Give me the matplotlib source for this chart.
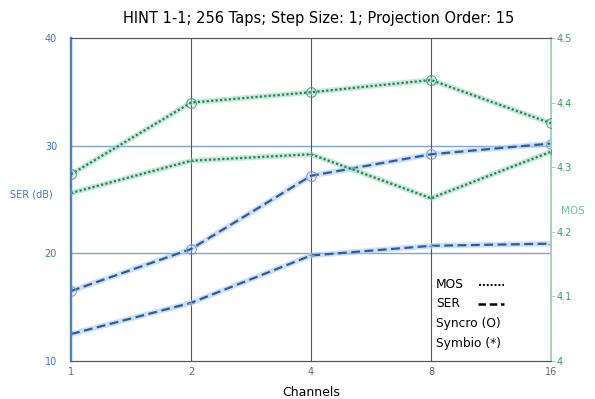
import numpy as np
import matplotlib
matplotlib.use("Agg")
import matplotlib.pyplot as plt

channels = [1, 2, 4, 8, 16]
mos_syncro = [4.289, 4.400, 4.416, 4.435, 4.368]
mos_symbio = [4.260, 4.310, 4.320, 4.252, 4.324]
ser_syncro = [16.5, 20.4, 27.2, 29.2, 30.2]
ser_symbio = [12.5, 15.4, 19.8, 20.7, 20.9]
legend_labels = ['MOS', 'SER', 'Syncro (O)', 'Symbio (*)']

blue = '#1f5fae'
blue_halo = '#b3cbea'
green = '#16875b'
green_halo = '#a9dbc0'

fig = plt.figure(figsize=(5.95, 3.99), dpi=100)
ax = fig.add_axes([0.1193, 0.0952, 0.8067, 0.8096])
ax2 = ax.twinx()

ax.set_xscale('log', base=2)
ax.set_xlim(1, 16)
ax.set_xticks(channels)
ax.set_xticklabels([str(c) for c in channels])
ax.minorticks_off()
ax.tick_params(axis='x', length=0, labelsize=7, labelcolor='#666666', pad=4)

ax.set_ylim(10, 40)
ax.set_yticks([10, 20, 30, 40])
ax.tick_params(axis='y', length=0, labelsize=7, labelcolor='#3a78c8', pad=10)

ax2.set_ylim(4.0, 4.5)
ax2.set_yticks([4.0, 4.1, 4.2, 4.3, 4.4, 4.5])
ax2.set_yticklabels(['4', '4.1', '4.2', '4.3', '4.4', '4.5'])
ax2.tick_params(axis='y', length=3, width=0.6, color='#88c8a4', labelsize=7,
                labelcolor='#2f9a66', pad=1)

# grid
for v in [20, 30]:
    ax.axhline(v, color='#7ea3d2', lw=1.0, zorder=1)
for c in [2, 4, 8]:
    ax.axvline(c, color='#555555', lw=0.8, zorder=1)

# SER lines (left axis) with a soft halo
for vals, mk in [(ser_syncro, 'o'), (ser_symbio, '+')]:
    ax.plot(channels, vals, color=blue_halo, lw=4, alpha=0.6, zorder=2,
            solid_capstyle='round')
    ax.plot(channels, vals, color=blue, lw=1.6, ls=(0, (4, 2)), zorder=3,
            marker=mk, ms=7 if mk == 'o' else 5, mfc='none', mec='#7f9fd0',
            mew=0.8)

# MOS lines (right axis)
for vals, mk in [(mos_syncro, 'o'), (mos_symbio, '+')]:
    ax2.plot(channels, vals, color=green_halo, lw=4, alpha=0.6, zorder=2,
             solid_capstyle='round')
    ax2.plot(channels, vals, color=green, lw=1.6, ls=(0, (1, 1)), zorder=3,
             marker=mk, ms=7 if mk == 'o' else 5, mfc='none', mec='#4aa67a',
             mew=0.8)

# spines
for a in (ax, ax2):
    a.spines['top'].set_color('#555555')
    a.spines['bottom'].set_color('#555555')
    a.spines['left'].set_color('#4a80c4')
    a.spines['right'].set_color('#9fd3b6')
ax.spines['left'].set_linewidth(1.6)
ax2.spines['left'].set_linewidth(1.6)
ax2.spines['right'].set_linewidth(1.2)

ax.set_title('HINT 1-1; 256 Taps; Step Size: 1; Projection Order: 15',
             fontsize=10.5, pad=11, x=0.515)
ax.set_xlabel('Channels', fontsize=9, labelpad=7)
ax.set_ylabel('SER (dB)', fontsize=7, color='#3a78c8', rotation=0,
              labelpad=0)
ax.yaxis.set_label_coords(-0.083, 0.50)
ax2.set_ylabel('MOS', fontsize=7.5, color='#6fbf95', rotation=0, labelpad=0)
ax2.yaxis.set_label_coords(1.045, 0.48)

# legend block: left-aligned labels, line samples to the right
ly = [0.236, 0.177, 0.115, 0.053]
for lab, y in zip(legend_labels, ly):
    ax2.text(0.760, y, lab, transform=ax2.transAxes, fontsize=8.8,
             va='center', ha='left')
ax2.plot([0.850, 0.902], [ly[0], ly[0]], transform=ax2.transAxes,
         color='black', ls=(0, (1, 1)), lw=1.4)
ax2.plot([0.848, 0.902], [ly[1], ly[1]], transform=ax2.transAxes,
         color='black', ls=(0, (3, 1.5)), lw=1.8)

fig.savefig('out.png', dpi=100)
